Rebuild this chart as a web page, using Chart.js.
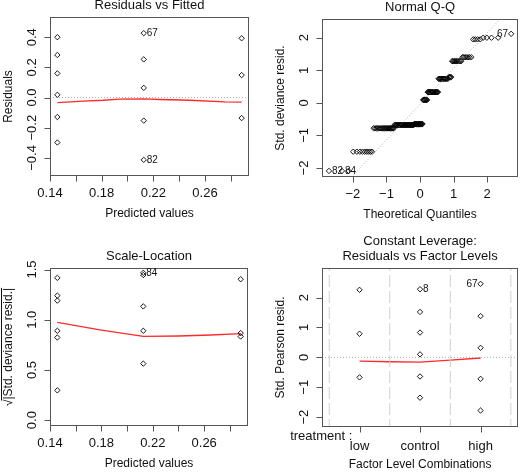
<!DOCTYPE html>
<html>
<head>
<meta charset="utf-8">
<script src="https://cdn.jsdelivr.net/npm/chart.js@4.4.1/dist/chart.umd.min.js"></script>
<style>
  html, body { margin: 0; padding: 0; background: #fff; }
  #wrap { position: relative; width: 523px; height: 472px; }
  #wrap canvas { position: absolute; left: 0; top: 0; }
</style>
</head>
<body>
<div id="wrap">
  <canvas id="resFit" width="523" height="472"></canvas>
  <canvas id="qq" width="523" height="472"></canvas>
  <canvas id="scaleLoc" width="523" height="472"></canvas>
  <canvas id="leverage" width="523" height="472"></canvas>
</div>
<script>
// fitted value of each treatment group
const fitControl = 0.1457, fitHigh = 0.2126, fitLow = 0.2884;

// Residuals vs Fitted
const residControl = [0.400, 0.282, 0.160, 0.018, -0.129, -0.298];
const residHigh = [0.427, 0.253, 0.064, -0.153, -0.413];
const residLow = [0.393, 0.149, -0.136];
const residSmoothX = [0.1457, 0.1657, 0.1812, 0.194, 0.2126, 0.2252, 0.2484, 0.2756, 0.2884];
const residSmoothY = [-0.033, -0.023, -0.018, -0.011, -0.009, -0.013, -0.018, -0.029, -0.030];

// Normal Q-Q: distinct std. deviance residuals and how many obs sit on each
const qqLevels = [-2.09, -1.50, -0.78, -0.68, -0.65, 0.09, 0.33, 0.74, 0.79, 1.28, 1.40, 1.95, 2.00, 2.12];
const qqCounts = [3, 9, 21, 31, 16, 8, 18, 14, 4, 10, 7, 4, 4, 1];
const qqRefX = [-2.04, 2.39];
const qqRefY = [-2.28, 2.58];

// Scale-Location: sqrt(|std. deviance resid|)
const sqrtControl = [1.417, 1.24, 1.19, 0.89, 0.823, 0.297];
const sqrtHigh = [1.467, 1.445, 1.133, 0.89, 0.563];
const sqrtLow = [1.403, 0.867, 0.833];
const sqrtSmoothX = [0.1457, 0.1788, 0.2126, 0.24, 0.265, 0.2884];
const sqrtSmoothY = [0.973, 0.90, 0.834, 0.838, 0.848, 0.861];

// Residuals vs Factor Levels
const factorLevels = ["low", "control", "high"];
const pearsonLow = [2.26, 0.79, -0.67];
const pearsonControl = [2.28, 1.52, 0.83, 0.10, -0.64, -1.35];
const pearsonHigh = [2.46, 1.38, 0.32, -0.72, -1.78];
const levSmoothY = [-0.124, -0.146, -0.157, -0.09, -0.022];
const levSmoothX = [0, 0.5, 1, 1.5, 2];

const FONT = '"Liberation Sans", Arial, Helvetica, sans-serif';
const INK = "#111";
const FRAME = "#555";
const RED = "#ff2a2a";
const GUIDE = "#9a9a9a";
const W = 523, H = 472;

function qnorm(p) {
  const a = [-39.69683028665376, 220.9460984245205, -275.9285104469687, 138.3577518672690, -30.66479806614716, 2.506628277459239];
  const b = [-54.47609879822406, 161.5858368580409, -155.6989798598866, 66.80131188771972, -13.28068155288572];
  const c = [-0.007784894002430293, -0.3223964580411365, -2.400758277161838, -2.549732539343734, 4.374664141464968, 2.938163982698783];
  const d = [0.007784695709041462, 0.3224671290700398, 2.445134137142996, 3.754408661907416];
  const pl = 0.02425;
  let q, r;
  if (p < pl) {
    q = Math.sqrt(-2 * Math.log(p));
    return (((((c[0]*q+c[1])*q+c[2])*q+c[3])*q+c[4])*q+c[5]) / ((((d[0]*q+d[1])*q+d[2])*q+d[3])*q+1);
  }
  if (p > 1 - pl) {
    q = Math.sqrt(-2 * Math.log(1 - p));
    return -(((((c[0]*q+c[1])*q+c[2])*q+c[3])*q+c[4])*q+c[5]) / ((((d[0]*q+d[1])*q+d[2])*q+d[3])*q+1);
  }
  q = p - 0.5; r = q * q;
  return (((((a[0]*r+a[1])*r+a[2])*r+a[3])*r+a[4])*r+a[5])*q / (((((b[0]*r+b[1])*r+b[2])*r+b[3])*r+b[4])*r+1);
}

// sorted sample vs normal quantiles (ppoints), as qqnorm does
function buildQQ() {
  const ys = [];
  qqLevels.forEach((v, i) => { for (let k = 0; k < qqCounts[i]; k++) ys.push(v); });
  const n = ys.length;
  return ys.map((y, i) => ({ x: qnorm((i + 0.5) / n), y }));
}

function column(x, values) {
  return values.map(v => ({ x, y: v }));
}

function pairs(xs, ys) {
  return xs.map((x, i) => ({ x, y: ys[i] }));
}

function pointSet(data) {
  return {
    data, showLine: false, pointStyle: "rectRot", pointRadius: 2.7, pointBorderWidth: 0.9,
    pointBackgroundColor: "rgba(0,0,0,0)", pointBorderColor: "#000"
  };
}

function lineSet(data, color, width, dash) {
  return {
    data, showLine: true, pointRadius: 0, borderColor: color,
    borderWidth: width, borderDash: dash || [], tension: 0
  };
}

function rFrame(o) {
  return {
    id: "rFrame",
    afterDraw(chart) {
      const ctx = chart.ctx, a = chart.chartArea;
      const xs = chart.scales.x, ys = chart.scales.y;
      const L = Math.round(a.left) + 0.5, R = Math.round(a.right) - 0.5;
      const T = Math.round(a.top) + 0.5, B = Math.round(a.bottom) - 0.5;
      ctx.save();
      ctx.strokeStyle = FRAME;
      ctx.lineWidth = 1;
      ctx.setLineDash([]);
      ctx.strokeRect(L, T, R - L, B - T);

      ctx.beginPath();
      o.xTicks.forEach(v => {
        const px = Math.round(xs.getPixelForValue(v)) + 0.5;
        ctx.moveTo(px, B); ctx.lineTo(px, B + 6);
      });
      o.yTicks.forEach(v => {
        const py = Math.round(ys.getPixelForValue(v)) + 0.5;
        ctx.moveTo(L, py); ctx.lineTo(L - 6, py);
      });
      ctx.stroke();

      ctx.fillStyle = INK;
      ctx.textAlign = "center";
      ctx.textBaseline = "middle";
      ctx.font = "13px " + FONT;
      o.xTickLabels.forEach((t, i) => {
        if (t) ctx.fillText(t, xs.getPixelForValue(o.xTicks[i]), a.bottom + 17);
      });
      o.yTickLabels.forEach((t, i) => {
        ctx.save();
        ctx.translate(a.left - 18, ys.getPixelForValue(o.yTicks[i]));
        ctx.rotate(-Math.PI / 2);
        ctx.fillText(t, 0, 0);
        ctx.restore();
      });

      ctx.font = "12px " + FONT;
      ctx.fillText(o.xLabel, (a.left + a.right) / 2, a.bottom + 38);
      ctx.save();
      ctx.translate(a.left - 41, (a.top + a.bottom) / 2);
      ctx.rotate(-Math.PI / 2);
      if (o.sqrtY) {
        const root = "\u221A", body = o.yLabel;
        const w1 = ctx.measureText(root).width, w2 = ctx.measureText(body).width;
        const x0 = -(w1 + w2) / 2;
        ctx.textAlign = "left";
        ctx.fillText(root, x0, 0);
        ctx.fillText(body, x0 + w1, 0);
        ctx.strokeStyle = INK;
        ctx.beginPath();
        ctx.moveTo(x0 + w1 - 1, -7.5); ctx.lineTo(x0 + w1 + w2, -7.5);
        ctx.stroke();
      } else {
        ctx.fillText(o.yLabel, 0, 0);
      }
      ctx.restore();

      ctx.font = "13px " + FONT;
      const cx = (a.left + a.right) / 2;
      o.title.forEach((t, i) => {
        ctx.fillText(t, cx, a.top - 11.5 - (o.title.length - 1 - i) * 15);
      });

      if (o.extra) o.extra(ctx, a, xs, ys);

      ctx.font = "10px " + FONT;
      (o.ids || []).forEach(id => {
        const px = xs.getPixelForValue(id.x), py = ys.getPixelForValue(id.y);
        ctx.textAlign = id.left ? "right" : "left";
        ctx.fillText(id.text, px + (id.left ? -3 : 3), py);
      });
      ctx.restore();
    }
  };
}

function makeChart(id, box, scales, datasets, frame) {
  return new Chart(document.getElementById(id), {
    type: "scatter",
    data: { datasets },
    options: {
      responsive: false,
      animation: false,
      events: [],
      layout: { padding: { left: box[0], top: box[2], right: W - box[1], bottom: H - box[3] } },
      plugins: { legend: { display: false }, tooltip: { enabled: false } },
      scales: {
        x: { type: "linear", display: false, min: scales[0], max: scales[1] },
        y: { type: "linear", display: false, min: scales[2], max: scales[3] }
      }
    },
    plugins: [rFrame(frame)]
  });
}

const fitTicks = [0.14, 0.16, 0.18, 0.20, 0.22, 0.24, 0.26, 0.28];
const fitTickLabels = ["0.14", "", "0.18", "", "0.22", "", "0.26", ""];

makeChart("resFit", [50, 249, 17, 176], [0.14, 0.2941, -0.52, 0.534], [
  lineSet(pairs([0.14, 0.2941], [0, 0]), GUIDE, 0.8, [1, 2]),
  pointSet(column(fitControl, residControl)),
  pointSet(column(fitHigh, residHigh)),
  pointSet(column(fitLow, residLow)),
  lineSet(pairs(residSmoothX, residSmoothY), RED, 1.3)
], {
  title: ["Residuals vs Fitted"],
  xTicks: fitTicks, xTickLabels: fitTickLabels,
  yTicks: [-0.4, -0.2, 0, 0.2, 0.4],
  yTickLabels: ["\u22120.4", "\u22120.2", "0.0", "0.2", "0.4"],
  xLabel: "Predicted values", yLabel: "Residuals",
  ids: [
    { x: fitHigh, y: residHigh[0], text: "67" },
    { x: fitHigh, y: residHigh[4], text: "82" }
  ]
});

const qqPts = buildQQ();
makeChart("qq", [322, 521, 19, 177], [-2.92, 2.92, -2.277, 2.575], [
  lineSet(pairs(qqRefX, qqRefY), GUIDE, 0.8, [1, 2]),
  pointSet(qqPts)
], {
  title: ["Normal Q-Q"],
  xTicks: [-2, -1, 0, 1, 2], xTickLabels: ["\u22122", "\u22121", "0", "1", "2"],
  yTicks: [-2, -1, 0, 1, 2], yTickLabels: ["\u22122", "\u22121", "0", "1", "2"],
  xLabel: "Theoretical Quantiles", yLabel: "Std. deviance resid.",
  ids: [
    { x: qqPts[0].x, y: qqPts[0].y, text: "82" },
    { x: qqPts[1].x, y: qqPts[1].y, text: "84" },
    { x: qqPts[qqPts.length - 1].x, y: qqPts[qqPts.length - 1].y, text: "67", left: true }
  ]
});

makeChart("scaleLoc", [50, 248, 268, 426], [0.14, 0.2941, -0.058, 1.515], [
  pointSet(column(fitControl, sqrtControl)),
  pointSet(column(fitHigh, sqrtHigh)),
  pointSet(column(fitLow, sqrtLow)),
  lineSet(pairs(sqrtSmoothX, sqrtSmoothY), RED, 1.3)
], {
  title: ["Scale-Location"],
  xTicks: fitTicks, xTickLabels: fitTickLabels,
  yTicks: [0, 0.5, 1, 1.5], yTickLabels: ["0.0", "0.5", "1.0", "1.5"],
  xLabel: "Predicted values", yLabel: "|Std. deviance resid.|", sqrtY: true,
  ids: [{ x: fitHigh, y: sqrtHigh[0], text: "84" }]
});

makeChart("leverage", [322, 521, 268, 427], [-0.62, 2.62, -2.33, 2.99], [
  lineSet(pairs([-0.5, -0.5], [-3, 4]), "#cfcfcf", 1, [12, 4]),
  lineSet(pairs([0.5, 0.5], [-3, 4]), "#cfcfcf", 1, [12, 4]),
  lineSet(pairs([1.5, 1.5], [-3, 4]), "#cfcfcf", 1, [12, 4]),
  lineSet(pairs([2.5, 2.5], [-3, 4]), "#cfcfcf", 1, [12, 4]),
  lineSet(pairs([-0.62, 2.62], [0, 0]), GUIDE, 0.8, [1, 2]),
  pointSet(column(0, pearsonLow)),
  pointSet(column(1, pearsonControl)),
  pointSet(column(2, pearsonHigh)),
  lineSet(pairs(levSmoothX, levSmoothY), RED, 1.3)
], {
  title: ["Constant Leverage:", "Residuals vs Factor Levels"],
  xTicks: [0, 1, 2], xTickLabels: ["", "", ""],
  yTicks: [-2, -1, 0, 1, 2], yTickLabels: ["\u22122", "\u22121", "0", "1", "2"],
  xLabel: "Factor Level Combinations", yLabel: "Std. Pearson resid.",
  ids: [
    { x: 1, y: pearsonControl[0], text: "8" },
    { x: 2, y: pearsonHigh[0], text: "67", left: true }
  ],
  extra(ctx, a, xs) {
    ctx.font = "13px " + FONT;
    factorLevels.forEach((t, i) => ctx.fillText(t, xs.getPixelForValue(i), a.bottom + 19));
    ctx.textAlign = "right";
    ctx.fillText("treatment :", xs.getPixelForValue(-0.12), a.bottom + 9);
    ctx.textAlign = "center";
  }
});
</script>
</body>
</html>
